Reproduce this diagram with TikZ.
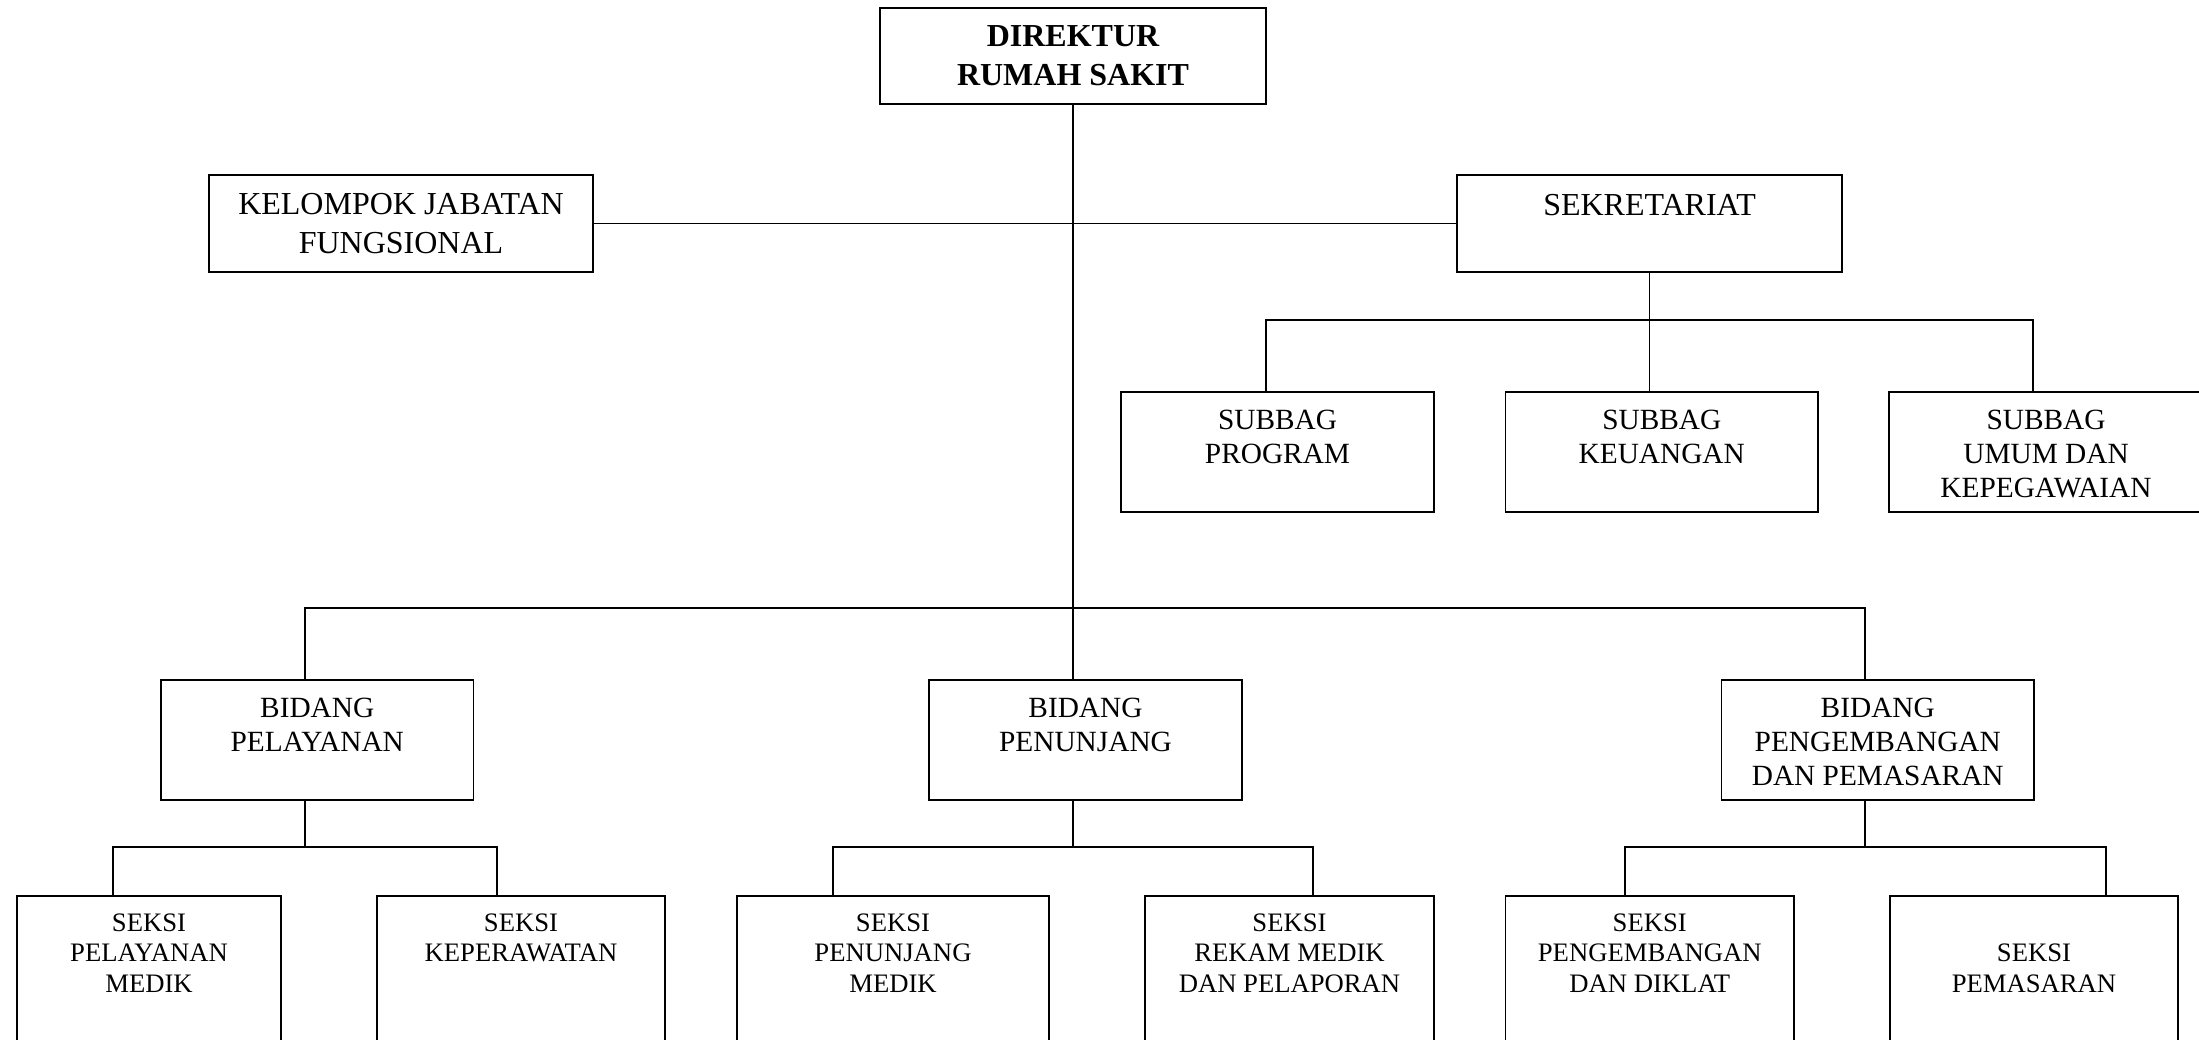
\documentclass[tikz,border=0pt]{standalone}
\usepackage{fontspec}
\setmainfont{Liberation Serif}
\usetikzlibrary{positioning,fit}

\begin{document}
\begin{tikzpicture}[x=0.375pt,y=-0.375pt,
    kotak/.style={draw,line width=0.65pt,inner sep=0pt},
    garis/.style={line width=0.72pt},
    tengah/.style={inner sep=0pt,align=center,anchor=center},
    atas/.style={inner sep=0pt,align=center,anchor=north,yshift=#1},
    besar/.style={font=\fontsize{12}{14.4}\selectfont},
    tebal/.style={font=\fontsize{12}{14.6}\selectfont\bfseries},
    sedang/.style={font=\fontsize{11}{12.75}\selectfont},
    kecil/.style={font=\fontsize{10}{11.4}\selectfont}]
  \useasboundingbox (0,0) rectangle (2199,1039);

  \node[kotak,fit={(880,8)(1266,104)},label={[tengah,tebal]center:DIREKTUR\\RUMAH SAKIT}](dir){};
  \node[kotak,fit={(209,175)(593,272)},label={[tengah,besar]center:KELOMPOK JABATAN\\FUNGSIONAL}](kel){};
  \node[kotak,fit={(1457,175)(1842,272)},label={[atas=-7.3pt,besar]north:SEKRETARIAT}](sek){};

  \node[kotak,fit={(1121,392)(1434,512)},label={[atas=-6.9pt,sedang]north:SUBBAG\\PROGRAM}](sp){};
  \node[kotak,fit={(1505.5,392)(1818,512)},label={[atas=-6.9pt,sedang]north:SUBBAG\\KEUANGAN}](sk){};
  \node[kotak,fit={(1889,392)(2203,512)},label={[atas=-6.9pt,sedang]north:SUBBAG\\UMUM DAN\\KEPEGAWAIAN}](su){};

  \node[kotak,fit={(161,680)(473.5,800)},label={[atas=-6.9pt,sedang]north:BIDANG\\PELAYANAN}](bpl){};
  \node[kotak,fit={(929,680)(1242,800)},label={[atas=-6.9pt,sedang]north:BIDANG\\PENUNJANG}](bpn){};
  \node[kotak,fit={(1721.5,680)(2034,800)},label={[atas=-6.9pt,sedang]north:BIDANG\\PENGEMBANGAN\\DAN PEMASARAN}](bpg){};

  \node[kotak,fit={(17,896)(281,1070)},label={[atas=-6.8pt,kecil]north:SEKSI\\PELAYANAN\\MEDIK}](s1){};
  \node[kotak,fit={(377,896)(665,1070)},label={[atas=-6.8pt,kecil]north:SEKSI\\KEPERAWATAN}](s2){};
  \node[kotak,fit={(737,896)(1049,1070)},label={[atas=-6.8pt,kecil]north:SEKSI\\PENUNJANG\\MEDIK}](s3){};
  \node[kotak,fit={(1145,896)(1434,1070)},label={[atas=-6.8pt,kecil]north:SEKSI\\REKAM MEDIK\\DAN PELAPORAN}](s4){};
  \node[kotak,fit={(1505.5,896)(1794,1070)},label={[atas=-6.8pt,kecil]north:SEKSI\\PENGEMBANGAN\\DAN DIKLAT}](s5){};
  \node[kotak,fit={(1890,896)(2178,1070)},label={[atas=-18.1pt,kecil]north:SEKSI\\PEMASARAN}](s6){};

  \coordinate (sb1) at (1265.6,320);
  \coordinate (sb2) at (2033,320);
  \coordinate (bb1) at (305,607.7);
  \coordinate (bb2) at (1865,607.7);
  \coordinate (pl1) at (113,847.3);
  \coordinate (pl2) at (497,847.3);
  \coordinate (pn1) at (833,847.3);
  \coordinate (pn2) at (1313,847.3);
  \coordinate (pg1) at (1625,847.3);
  \coordinate (pg2) at (2106,847.3);

  \draw[garis] (dir.south) -- (dir.south |- bpn.north);
  \draw[garis] (kel.east) -- (sek.west);

  \draw[garis] (sek.south) -- (sek.south |- sk.north);
  \draw[garis] (sp.north -| sb1) |- (sb2) -- (sb2 |- su.north);

  \draw[garis] (bpl.north -| bb1) |- (bb2) -- (bb2 |- bpg.north);

  \draw[garis] (bpl.south -| bb1) -- (bb1 |- pl1);
  \draw[garis] (s1.north -| pl1) |- (pl2) -- (pl2 |- s2.north);
  \draw[garis] (dir.south |- bpn.south) -- (dir.south |- pn1);
  \draw[garis] (s3.north -| pn1) |- (pn2) -- (pn2 |- s4.north);
  \draw[garis] (bpg.south -| bb2) -- (bb2 |- pg1);
  \draw[garis] (s5.north -| pg1) |- (pg2) -- (pg2 |- s6.north);
\end{tikzpicture}
\end{document}
